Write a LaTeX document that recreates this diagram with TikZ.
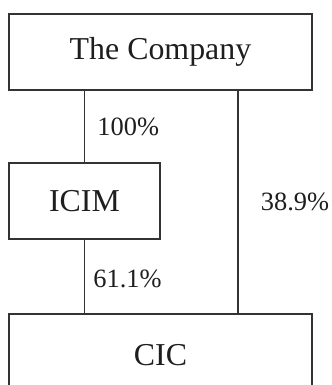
\documentclass[tikz,border=0pt]{standalone}
\usepackage{fontspec}
\setmainfont{Liberation Serif}
\usepackage{tikz}
\usetikzlibrary{positioning}
\definecolor{ink}{HTML}{333333}
\definecolor{txt}{HTML}{1E1E1E}

\begin{document}
\begin{tikzpicture}[x=1bp,y=-1bp,
 entity/.style={draw=ink,line width=1.3bp,rectangle,inner sep=0pt,
  font=\fontsize{32}{36}\selectfont,text=txt},
 link/.style={draw=ink,line width=1.3bp},
 share/.style={font=\fontsize{26.5}{30}\selectfont,text=txt}]
\useasboundingbox (0,0) rectangle (332,385);
\node[entity,minimum width=303bp,minimum height=76bp] (company) at (160.5,52) {The Company};
\node[entity,minimum width=151bp,minimum height=76bp] (icim) at (84.5,201) {ICIM};
\node[entity,minimum width=303bp,minimum height=82bp] (cic) at (160.5,355) {CIC};
\coordinate (side) at (238,0);
\draw[link] (company.south -| icim) -- node[share,right,xshift=9bp] {100\%} (icim.north);
\draw[link] (icim.south) -- node[share,right,xshift=5bp,yshift=-2bp] {61.1\%} (cic.north -| icim);
\draw[link] (company.south -| side) -- node[share,right,xshift=19bp] {38.9\%} (cic.north -| side);
\end{tikzpicture}
\end{document}
